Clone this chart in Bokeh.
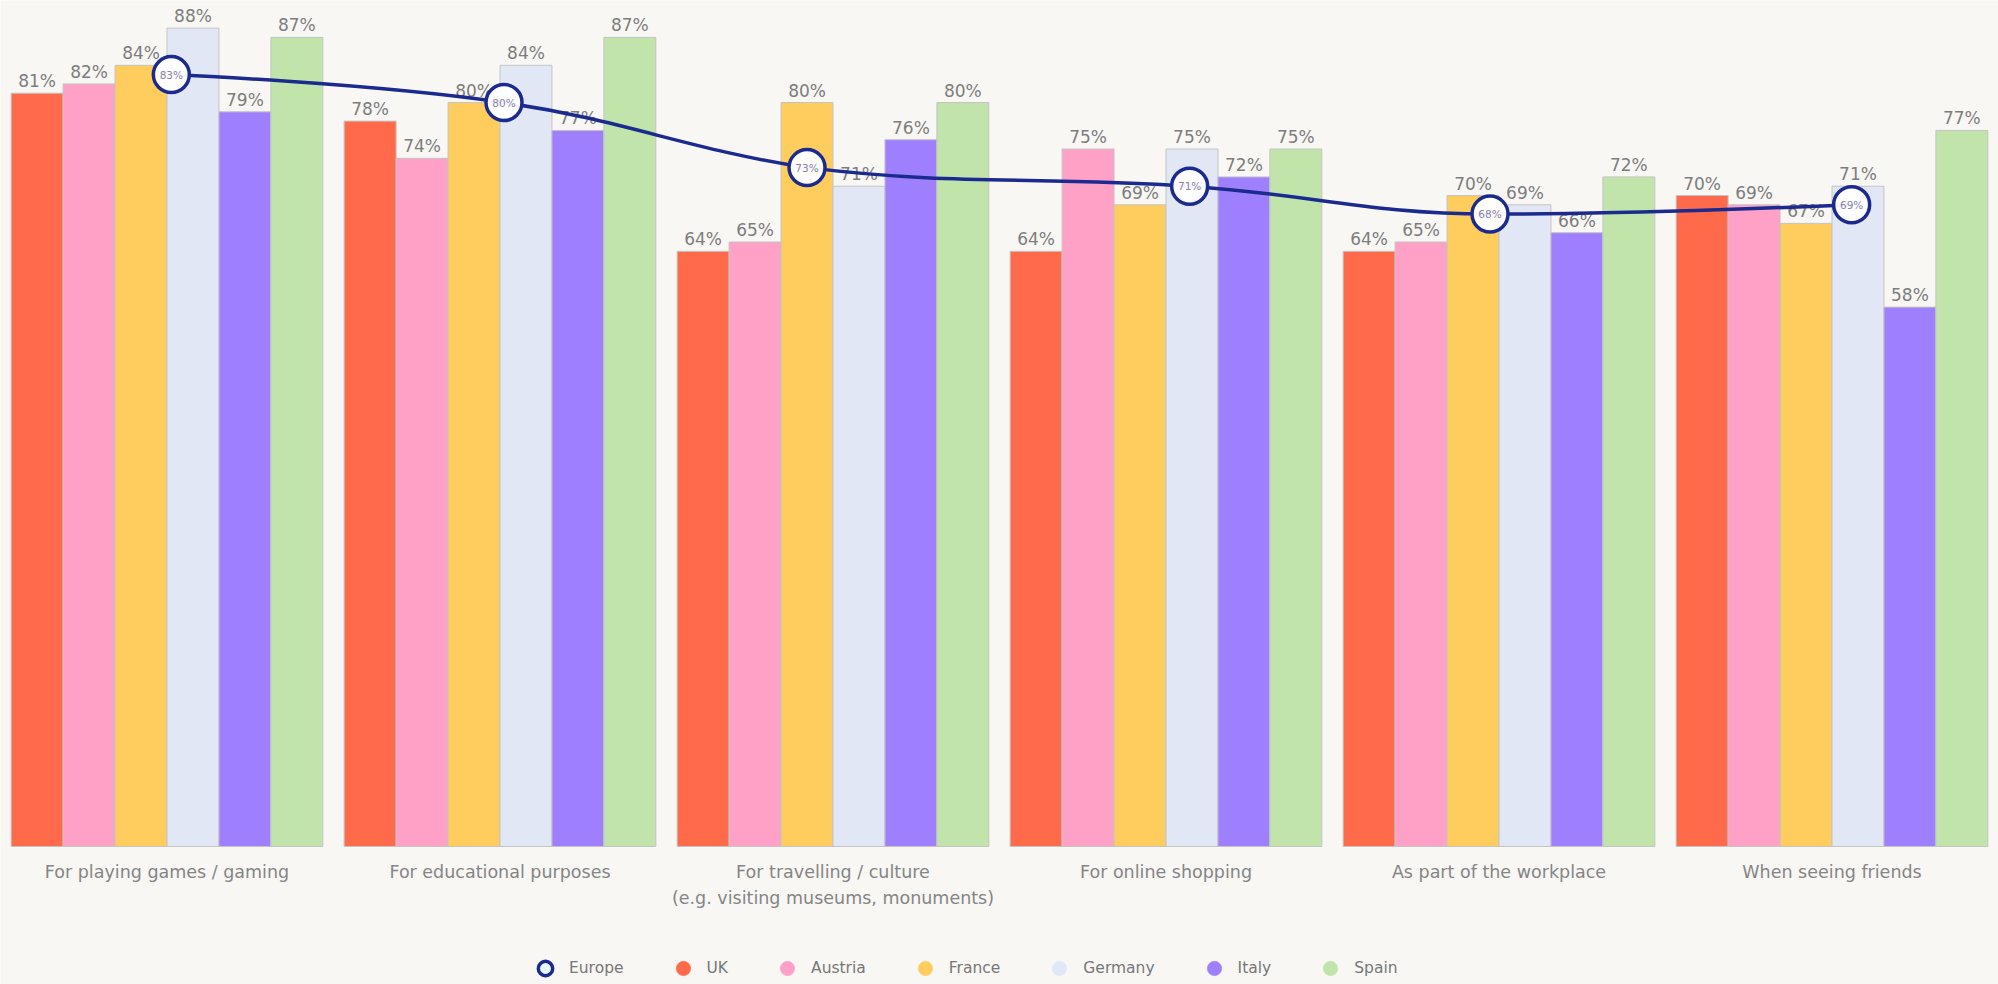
from bokeh.plotting import figure
from bokeh.models import FactorRange, Range1d, Legend, LegendItem, ColumnDataSource
from bokeh.transform import dodge
from bokeh.core.properties import value
from bokeh.embed import file_html
from bokeh.resources import INLINE

# ---------------- data ----------------
categories = [
    "For playing games / gaming",
    "For educational purposes",
    "For travelling / culture\n(e.g. visiting museums, monuments)",
    "For online shopping",
    "As part of the workplace",
    "When seeing friends",
]
countries = ["UK", "Austria", "France", "Germany", "Italy", "Spain"]
uk = [81, 78, 64, 64, 64, 70]
austria = [82, 74, 65, 75, 65, 69]
france = [84, 80, 80, 69, 70, 67]
germany = [88, 84, 71, 75, 69, 71]
italy = [79, 77, 76, 72, 66, 58]
spain = [87, 87, 80, 75, 72, 77]
europe = [83, 80, 73, 71, 68, 69]

# ---------------- style ----------------
colors = ["#FF6A4B", "#FFA1C7", "#FFCD5E", "#E2E7F6", "#9E80FF", "#C0E4A9"]
navy = "#1B2A8E"
bg = "#F8F7F4"
FONT = "DejaVu Sans"
marker_shift = [0.013, 0.012, -0.078, 0.071, -0.027, 0.059]
bar_w = 0.156

series = [uk, austria, france, germany, italy, spain]
data = {"cat": categories, "base": [0] * len(categories)}
for name, vals in zip(countries, series):
    data[name] = vals
    data[name + "_lbl"] = [f"{v}%" for v in vals]
src = ColumnDataSource(data)

p = figure(
    width=1998, height=984,
    x_range=FactorRange(factors=categories, range_padding=0, factor_padding=0),
    y_range=Range1d(-14.84, 90.97),
    output_backend="svg", toolbar_location=None,
    x_axis_location=None, y_axis_location=None,
    min_border_left=0, min_border_right=0, min_border_top=0, min_border_bottom=0,
    background_fill_color=bg, border_fill_color=bg, outline_line_color=None,
)
p.xgrid.visible = False
p.ygrid.visible = False

for j, name in enumerate(countries):
    off = (j - 2.5) * bar_w
    p.vbar(x=dodge("cat", off, range=p.x_range), top=name, width=bar_w, bottom=0,
           source=src, fill_color=colors[j], line_color="#c4c4c4", line_width=1)
    p.text(x=dodge("cat", off, range=p.x_range), y=name, text=name + "_lbl", source=src,
           text_align="center", text_baseline="alphabetic", y_offset=-12,
           text_font=value(FONT), text_font_size="17px", text_color="#7d7d7d")

# category labels under the groups
p.text(x="cat", y="base", text="cat", source=src, text_align="center", text_baseline="top",
       y_offset=16, text_line_height=1.3,
       text_font=value(FONT), text_font_size="17.5px", text_color="#858585")

# Europe spline (Highcharts-style smoothing)
ex = [i + 0.5 + marker_shift[i] for i in range(len(europe))]
ey = list(europe)


def controls(xs, ys, smoothing=1.5):
    n = len(xs)
    denom = smoothing + 1
    lefts, rights = [], []
    for i in range(n):
        if i == 0 or i == n - 1:
            lefts.append((xs[i], ys[i]))
            rights.append((xs[i], ys[i]))
            continue
        px, py = xs[i], ys[i]
        lx = (smoothing * px + xs[i - 1]) / denom
        ly = (smoothing * py + ys[i - 1]) / denom
        rx = (smoothing * px + xs[i + 1]) / denom
        ry = (smoothing * py + ys[i + 1]) / denom
        corr = ((ry - ly) * (rx - px)) / (rx - lx) + py - ry
        ly += corr
        ry += corr
        if ly > max(ys[i - 1], py):
            ly = max(ys[i - 1], py); ry = 2 * py - ly
        elif ly < min(ys[i - 1], py):
            ly = min(ys[i - 1], py); ry = 2 * py - ly
        if ry > max(ys[i + 1], py):
            ry = max(ys[i + 1], py); ly = 2 * py - ry
        elif ry < min(ys[i + 1], py):
            ry = min(ys[i + 1], py); ly = 2 * py - ry
        lefts.append((lx, ly))
        rights.append((rx, ry))
    return lefts, rights


lefts, rights = controls(ex, ey)
bz = dict(
    x0=ex[:-1], y0=ey[:-1], x1=ex[1:], y1=ey[1:],
    cx0=[r[0] for r in rights[:-1]], cy0=[r[1] for r in rights[:-1]],
    cx1=[l[0] for l in lefts[1:]], cy1=[l[1] for l in lefts[1:]],
)
p.bezier(source=ColumnDataSource(bz), x0="x0", y0="y0", x1="x1", y1="y1",
         cx0="cx0", cy0="cy0", cx1="cx1", cy1="cy1",
         line_color=navy, line_width=3.5, line_cap="round")

esrc = ColumnDataSource(dict(x=ex, y=ey, lbl=[f"{v}%" for v in ey]))
p.scatter(x="x", y="y", source=esrc, marker="circle", size=36,
          fill_color="#FFFFFF", fill_alpha=0.96, line_color=navy, line_width=3.5)
p.text(x="x", y="y", text="lbl", source=esrc, text_align="center", text_baseline="middle",
       text_font=value(FONT), text_font_size="10.5px", text_color="#8a82a8")

# legend with hidden (NaN) proxy renderers
nan = float("nan")
items = []
r_eu = p.scatter(x=[categories[0]], y=[nan], marker="circle", size=13, fill_color="#E9FAF7",
                 line_color=navy, line_width=3.5)
items.append(LegendItem(label="Europe", renderers=[r_eu]))
for j, name in enumerate(countries):
    r = p.scatter(x=[categories[0]], y=[nan], marker="circle", size=16, fill_color=colors[j],
                  line_color=colors[j], line_alpha=0.6)
    items.append(LegendItem(label=name, renderers=[r]))

legend = Legend(items=items, orientation="horizontal", location=(527, -2),
                glyph_width=36, glyph_height=36, label_standoff=6, spacing=41,
                padding=0, margin=0, border_line_color=None, background_fill_alpha=0,
                label_text_font=FONT, label_text_font_size="15.5px", label_text_color="#777777")
p.add_layout(legend, "center")

open("out.html", "w").write(file_html(p, INLINE))
